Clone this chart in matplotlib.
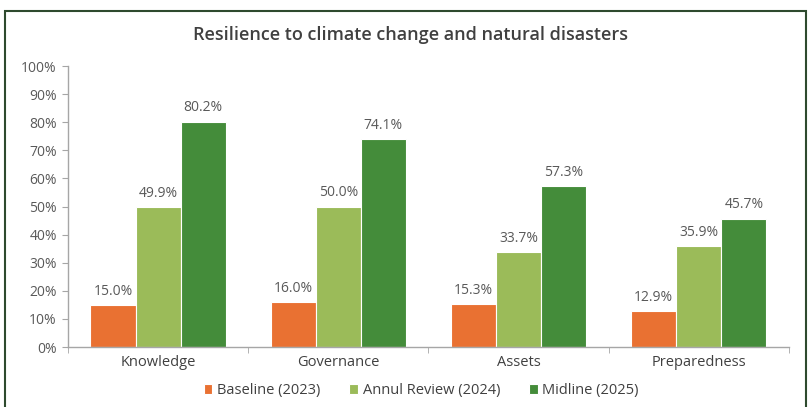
import matplotlib.pyplot as plt
import matplotlib.patches as patches
import numpy as np

categories = ['Knowledge', 'Governance', 'Assets', 'Preparedness']
series_names = ['Baseline (2023)', 'Annul Review (2024)', 'Midline (2025)']
baseline = [15.0, 16.0, 15.3, 12.9]
annual = [49.9, 50.0, 33.7, 35.9]
midline = [80.2, 74.1, 57.3, 45.7]
colors = ['#E97132', '#9BBB59', '#448C3A']

plt.rcParams['font.family'] = ['Open Sans', 'DejaVu Sans']
grey = '#595959'

fig = plt.figure(figsize=(8.12, 4.07), dpi=100)
ax = fig.add_axes([0.0837, 0.1474, 0.888, 0.6904])

x = np.arange(len(categories))
w = 0.25
for i, (vals, name) in enumerate(zip([baseline, annual, midline], series_names)):
    pos = x + (i - 1) * w
    ax.bar(pos, vals, width=w, color=colors[i], edgecolor='white', linewidth=0.8, label=name)
    for p, v in zip(pos, vals):
        ax.text(p, v + 2.2, '%.1f%%' % v, ha='center', va='bottom', fontsize=10, color=grey)

ax.set_xlim(-0.5, len(categories) - 0.5)
ax.set_ylim(0, 100)
ax.set_yticks(np.arange(0, 101, 10))
ax.set_yticklabels(['%d%%' % t for t in range(0, 101, 10)], fontsize=10, color=grey)
ax.set_xticks(x)
ax.set_xticklabels(categories, fontsize=10.5, color='#404040')
ax.set_xticks(np.arange(-0.5, len(categories)), minor=True)
ax.tick_params(axis='x', which='major', length=0, pad=6)
ax.tick_params(axis='x', which='minor', length=4, color='#A6A6A6')
ax.tick_params(axis='y', length=4, color='#A6A6A6', pad=4)
for s in ['top', 'right']:
    ax.spines[s].set_visible(False)
for s in ['left', 'bottom']:
    ax.spines[s].set_color('#A6A6A6')
    ax.spines[s].set_linewidth(1.0)

fig.text(0.505, 0.914, 'Resilience to climate change and natural disasters',
         ha='center', va='center', fontsize=13, fontweight='semibold', color='#404040')

ax.legend(loc='center', bbox_to_anchor=(0.49, -0.155), ncol=3, frameon=False,
          fontsize=10.5, handlelength=0.6, handleheight=0.6, handletextpad=0.3,
          columnspacing=2.0, labelcolor='#404040')

# outer frame, open at the bottom edge
frame = patches.Rectangle((5 / 812, -0.05), 801 / 812, 1 - 11 / 407 + 0.05,
                          transform=fig.transFigure, fill=False,
                          edgecolor='#2E4A2E', linewidth=1.5, clip_on=False)
fig.patches.append(frame)

fig.savefig('out.png', dpi=100)
